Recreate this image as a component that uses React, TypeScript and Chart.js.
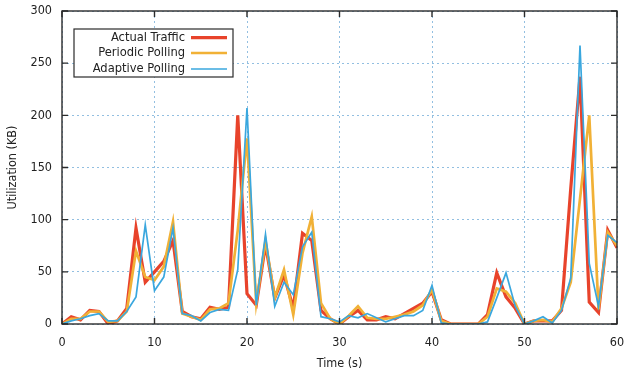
import { useEffect, useRef } from "react";
import { Chart, registerables } from "chart.js";

Chart.register(...registerables);

const timeSeconds = [0, 1, 2, 3, 4, 5, 6, 7, 8, 9, 10, 11, 12, 13, 14, 15, 16, 17, 18, 19, 20, 21, 22, 23, 24, 25, 26, 27, 28, 29, 30, 31, 32, 33, 34, 35, 36, 37, 38, 39, 40, 41, 42, 43, 44, 45, 46, 47, 48, 49, 50, 51, 52, 53, 54, 55, 56, 57, 58, 59, 60];

const actualTraffic = [0, 7, 4, 13, 12, 0, 3, 15, 92, 40, 50, 60, 80, 12, 7, 5, 16, 14, 16, 200, 29, 18, 76, 25, 47, 15, 87, 80, 13, 5, 0, 7, 13, 4, 4, 7, 5, 10, 15, 20, 31, 4, 0, 0, 0, 0, 9, 49, 26, 15, 0, 3, 3, 3, 13, 130, 237, 21, 11, 90, 73];

const periodicPolling = [0, 5, 5, 12, 12, 2, 3, 12, 70, 45, 42, 55, 98, 10, 7, 4, 14, 15, 20, 90, 178, 20, 80, 25, 52, 9, 68, 103, 20, 5, 0, 8, 17, 6, 5, 5, 7, 9, 12, 18, 33, 3, 0, 0, 0, 0, 7, 34, 31, 20, 0, 3, 4, 2, 15, 40, 120, 200, 14, 88, 75];

const adaptivePolling = [0, 3, 5, 8, 10, 3, 3, 12, 26, 95, 32, 45, 92, 10, 8, 3, 11, 14, 13, 52, 207, 18, 86, 17, 40, 28, 74, 88, 7, 5, 2, 8, 6, 10, 6, 2, 5, 8, 8, 13, 37, 1, 0, 0, 0, 0, 2, 25, 49, 17, 0, 3, 7, 1, 13, 44, 267, 58, 17, 85, 78];

const seriesNames = ["Actual Traffic", "Periodic Polling", "Adaptive Polling"];
const seriesColors = ["#e8432b", "#f1b136", "#3aa7de"];
const seriesWidths = [3.2, 2.7, 1.7];

const xTicks = [0, 10, 20, 30, 40, 50, 60];
const yTicks = [0, 50, 100, 150, 200, 250, 300];
const xTitle = "Time (s)";
const yTitle = "Utilization (KB)";

const FONT = "'DejaVu Sans Condensed', 'DejaVu Sans', sans-serif";

const framePlugin = {
  id: "framePlugin",
  afterDatasetsDraw(chart: any) {
    const { ctx, chartArea } = chart;
    const { left, right, top, bottom } = chartArea;
    const xs = chart.scales.x;
    const ys = chart.scales.y;
    ctx.save();
    ctx.strokeStyle = "#2b2b2b";
    ctx.lineWidth = 1.4;
    ctx.strokeRect(left, top, right - left, bottom - top);
    const tl = 6;
    ctx.beginPath();
    xTicks.forEach((v) => {
      const px = xs.getPixelForValue(v);
      ctx.moveTo(px, bottom);
      ctx.lineTo(px, bottom - tl);
      ctx.moveTo(px, top);
      ctx.lineTo(px, top + tl);
    });
    yTicks.forEach((v) => {
      const py = ys.getPixelForValue(v);
      ctx.moveTo(left, py);
      ctx.lineTo(left + tl, py);
      ctx.moveTo(right, py);
      ctx.lineTo(right - tl, py);
    });
    ctx.stroke();
    ctx.restore();
  },
  afterDraw(chart: any) {
    const { ctx, chartArea } = chart;
    ctx.save();
    ctx.fillStyle = "#222";
    ctx.font = `12.5px ${FONT}`;
    ctx.textAlign = "center";
    ctx.textBaseline = "middle";
    ctx.fillText(xTitle, (chartArea.left + chartArea.right) / 2, 364);
    ctx.save();
    ctx.translate(13, (chartArea.top + chartArea.bottom) / 2);
    ctx.rotate(-Math.PI / 2);
    ctx.fillText(yTitle, 0, 0);
    ctx.restore();

    const bx = 74, by = 29, bw = 159, bh = 48;
    ctx.fillStyle = "#ffffff";
    ctx.fillRect(bx, by, bw, bh);
    ctx.strokeStyle = "#2b2b2b";
    ctx.lineWidth = 1.2;
    ctx.strokeRect(bx, by, bw, bh);
    const rows = [37.7, 53, 69];
    ctx.font = `12.8px ${FONT}`;
    seriesNames.forEach((name, i) => {
      ctx.fillStyle = "#222";
      ctx.textAlign = "right";
      ctx.textBaseline = "middle";
      ctx.fillText(name, 185, rows[i]);
      ctx.strokeStyle = seriesColors[i];
      ctx.lineWidth = seriesWidths[i];
      ctx.beginPath();
      ctx.moveTo(191, rows[i]);
      ctx.lineTo(227, rows[i]);
      ctx.stroke();
    });
    ctx.restore();
  },
};

export default function App() {
  const canvasRef = useRef<HTMLCanvasElement | null>(null);

  useEffect(() => {
    if (!canvasRef.current) return;
    const series = [actualTraffic, periodicPolling, adaptivePolling];
    const datasets = series.map((vals, i) => ({
      label: seriesNames[i],
      data: vals.map((v, j) => ({ x: timeSeconds[j], y: v })),
      borderColor: seriesColors[i],
      backgroundColor: seriesColors[i],
      borderWidth: seriesWidths[i],
      pointRadius: 0,
      tension: 0,
      fill: false,
      order: 2 - i,
    }));
    const chart = new Chart(canvasRef.current, {
      type: "line",
      data: { datasets },
      options: {
        responsive: false,
        animation: false,
        layout: { autoPadding: false, padding: { left: 0, top: 11, right: 7, bottom: 0 } },
        plugins: { legend: { display: false }, tooltip: { enabled: false } },
        scales: {
          x: {
            type: "linear",
            min: 0,
            max: 60,
            afterFit: (s: any) => {
              s.height = 52;
              s.paddingLeft = 0;
              s.paddingRight = 0;
            },
            afterBuildTicks: (s: any) => {
              s.ticks = xTicks.map((v) => ({ value: v }));
            },
            ticks: {
              color: "#222",
              font: { family: FONT, size: 12.5 },
              padding: 11,
              maxRotation: 0,
            },
            grid: {
              color: "rgba(110,170,215,0.75)",
              lineWidth: 1,
              drawTicks: false,
            },
            border: { display: false, dash: [2, 3] },
          },
          y: {
            type: "linear",
            min: 0,
            max: 300,
            afterFit: (s: any) => {
              s.width = 62;
              s.paddingTop = 0;
              s.paddingBottom = 0;
            },
            afterBuildTicks: (s: any) => {
              s.ticks = yTicks.map((v) => ({ value: v }));
            },
            ticks: {
              color: "#222",
              font: { family: FONT, size: 12.5 },
              padding: 10,
            },
            grid: {
              color: "rgba(110,170,215,0.75)",
              lineWidth: 1,
              drawTicks: false,
            },
            border: { display: false, dash: [2, 3] },
          },
        },
      },
      plugins: [framePlugin],
    });
    return () => chart.destroy();
  }, []);

  return (
    <div style={{ position: "absolute", left: 0, top: 0, width: 624, height: 376, background: "#fff" }}>
      <canvas ref={canvasRef} width={624} height={376} />
    </div>
  );
}
